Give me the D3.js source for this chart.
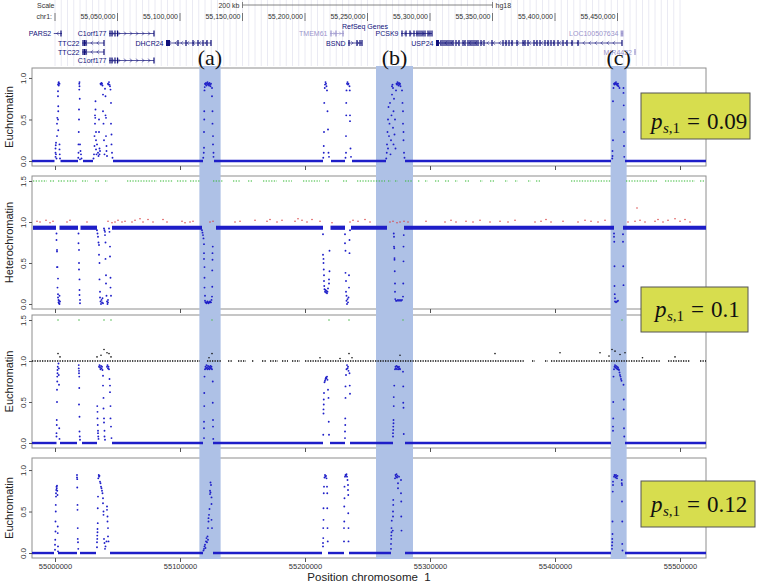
<!DOCTYPE html>
<html><head><meta charset="utf-8">
<script src="https://cdn.jsdelivr.net/npm/d3@7"></script>
<style>body{margin:0;background:#fff;} svg{display:block;}</style>
</head><body><svg id="c" width="758" height="584"></svg>
<script>
// ---------------- DATA (positions in kb on chromosome 1) ----------------
const xTickKb = [55000,55100,55200,55300,55400,55500];
const chrTickKb = [55000,55050,55100,55150,55200,55250,55300,55350,55400,55450];
const scaleBarKb = [55150,55350];
const scaleBarLabel = "200 kb";
const assembly = "hg18";
const trackTitle = "RefSeq Genes";

const geneNames  = ["PARS2","C1orf177","TMEM61","PCSK9","LOC100507634","TTC22","DHCR24","BSND","USP24","TTC22","MIR4422","C1orf177"];
const geneRow    = [0,0,0,0,0,1,1,1,1,2,2,3];
const geneStart  = [54999.0,55043.2,55220.0,55276.8,55452.8,55021.6,55088.8,55234.4,55304.8,55021.6,55463.6,55043.2];
const geneEnd    = [55005.6,55079.2,55231.2,55301.6,55454.4,55039.2,55124.8,55245.6,55453.6,55039.2,55464.4,55079.2];
const geneStrand = ["-","+","+","+","+","-","-","+","-","-","-","+"];
const genePredicted = [false,false,true,false,true,false,false,false,false,false,true,false];
const geneExons = [
  [55004.8],
  [55044,55045.6,55048,55050,55079.2],
  [55220.8,55224.8,55230.4],
  [55277.6,55280.8,55284,55287.2,55289.6,55291.2,55292.8,55294.4,55296,55298.4,55300,55301.6],
  [55453.0,55454.2],
  [55022.4,55023.6,55024.8,55039.2],
  [55098.4,55104.8,55110.4,55114.4,55118.4,55121.6,55124.8],
  [55235.2,55241.6,55244,55245.6],
  [55308.8,55310.4,55312,55313.6,55315.2,55316.8,55318.4,55320.8,55323.2,55326.4,55328,55330.4,55332,55333.6,55335.2,55336.8,55338.4,55340.8,55343.2,55349.6,55358.4,55360.8,55363.2,55365.6,55369.6,55374.4,55376,55378.4,55383.2,55385.6,55388,55392,55394.4,55396.8,55399.2,55402.4,55406.4,55409.6,55413.6,55418.4,55453.6],
  [55022.4,55023.6,55024.8,55039.2],
  [55464.0],
  [55044,55045.6,55048,55050,55079.2]
];
const geneBlocks = [[],[],[],[],[],[],[55088.8,55092],[],[55304.8,55307.2],[],[],[]];

const regionLabels = ["(a)","(b)","(c)"];
const regionStart = [55115.5,55256.8,55444.5];
const regionEnd   = [55132.5,55286.4,55457.3];

const panelTitles = ["Euchromatin","Heterochromatin","Euchromatin","Euchromatin"];
const yTicks = [[0,0.5,1],[0,0.5,1,1.5],[0,0.5,1,1.5],[0,0.5,1]];
const ps1Values = ["0.09","0.1","0.12"];
const xTitle = "Position chromosome  1";

// Panel 1: euchromatin posterior, p_s,1 = 0.09
const eu09Base = [[54981.6,54999.6],[55004.4,55018.4],[55022.4,55030.4],[55046.4,55118.4],[55127.2,55214.4],[55220.8,55232],[55237.6,55264.8],[55280,55444.8],[55456,55520.8]];
const eu09Pts = [
 [55000.4,0.05],[55000.4,0.1],[55000.4,0.15],[55000.6,0.19],[55000.8,0.22],[55000.8,0.08],[55001.2,0.03],[55001.6,0.3],[55001.6,0.45],[55001.8,0.52],[55002.4,0.92],[55002.4,0.84],[55002.4,0.78],[55002.6,0.66],[55002.6,0.6],[55002.4,0.5],[55002.6,0.37],[55002.8,0.94],[55003.0,0.91],[55003.0,0.95],[55003.6,0.93],[55003.6,0.2],[55003.6,0.14],[55003.8,0.08],[55004.0,0.03],
 [55018.6,0.04],[55018.8,0.1],[55018.8,0.2],[55019.0,0.35],[55019.2,0.5],[55019.2,0.62],[55019.4,0.86],[55019.4,0.93],[55019.6,0.95],[55019.6,0.9],[55019.8,0.75],[55020.0,0.2],[55020.4,0.12],[55020.8,0.08],[55021.2,0.03],[55020.0,0.02],
 [55030.8,0.03],[55031.2,0.08],[55031.6,0.18],[55031.6,0.3],[55032.0,0.45],[55032.0,0.55],[55032.2,0.52],[55032.4,0.62],[55032.4,0.72],[55032.8,0.35],[55032.8,0.25],[55032.8,0.14],[55033.2,0.08],[55033.6,0.2],[55034.4,0.1],[55034.8,0.06],[55035.2,0.5],[55035.2,0.35],[55035.6,0.15],[55035.6,0.08],[55036.0,0.12],[55036.4,0.93],[55036.8,0.92],[55037.2,0.94],[55037.6,0.93],[55038.0,0.91],[55038.4,0.8],[55038.4,0.6],[55038.8,0.45],[55039.2,0.25],[55039.6,0.08],[55040.0,0.87],[55040.4,0.78],[55040.4,0.55],[55040.8,0.52],[55040.8,0.3],[55041.2,0.18],[55041.2,0.12],[55041.6,0.06],[55042.4,0.93],[55042.8,0.92],[55043.2,0.95],[55043.6,0.92],[55044.0,0.9],[55044.4,0.86],[55044.8,0.7],[55044.8,0.45],[55045.2,0.32],[55045.2,0.2],[55045.6,0.1],[55046.0,0.04],
 [55118.6,0.04],[55119.0,0.1],[55119.2,0.16],[55119.2,0.35],[55119.4,0.5],[55119.4,0.6],[55119.6,0.85],[55119.8,0.89],[55120.0,0.93],[55120.4,0.92],[55120.8,0.94],[55121.2,0.91],[55121.6,0.93],[55122.0,0.95],[55122.4,0.92],[55122.8,0.93],[55123.2,0.91],[55123.6,0.94],[55124.0,0.92],[55124.4,0.9],[55124.8,0.93],[55125.6,0.88],[55125.6,0.78],[55126.0,0.6],[55126.0,0.45],[55126.4,0.3],[55126.4,0.2],[55126.8,0.1],[55126.8,0.05],
 [55214.6,0.04],[55215.0,0.1],[55215.0,0.18],[55215.2,0.35],[55215.4,0.7],[55215.8,0.88],[55216.0,0.92],[55216.4,0.95],[55216.8,0.93],[55217.2,0.9],[55217.6,0.85],[55218.0,0.6],[55218.4,0.38],[55218.8,0.1],[55219.2,0.05],
 [55232.4,0.04],[55232.8,0.1],[55232.8,0.3],[55233.0,0.55],[55233.0,0.7],[55233.2,0.85],[55233.6,0.93],[55234.0,0.95],[55234.4,0.92],[55234.8,0.93],[55235.6,0.9],[55235.8,0.85],[55236.0,0.55],[55236.0,0.48],[55236.4,0.15],[55236.8,0.05],
 [55265.0,0.03],[55265.4,0.1],[55265.6,0.2],[55266.0,0.35],[55266.4,0.15],[55266.4,0.5],[55266.8,0.65],[55267.2,0.3],[55267.6,0.45],[55268.0,0.7],[55268.4,0.08],[55268.8,0.25],[55269.2,0.55],[55269.6,0.8],[55269.6,0.9],[55270.0,0.92],[55270.4,0.88],[55270.4,0.4],[55270.8,0.6],[55270.8,0.2],[55271.2,0.75],[55271.6,0.32],[55272.0,0.5],[55272.4,0.15],[55272.8,0.85],[55273.2,0.93],[55273.6,0.92],[55274.0,0.95],[55274.4,0.93],[55274.8,0.91],[55275.2,0.94],[55275.6,0.92],[55276.0,0.93],[55276.4,0.9],[55277.6,0.85],[55278.0,0.7],[55278.4,0.6],[55278.4,0.45],[55278.8,0.35],[55278.8,0.25],[55279.2,0.1],[55279.6,0.04],
 [55445.8,0.03],[55446.0,0.06],[55446.0,0.12],[55446.4,0.25],[55446.4,0.72],[55446.8,0.88],[55447.2,0.93],[55447.6,0.92],[55448.0,0.94],[55448.4,0.93],[55448.8,0.95],[55449.2,0.92],[55449.6,0.93],[55450.0,0.91],[55450.4,0.93],[55450.8,0.9],[55451.6,0.88],[55454.8,0.88],[55454.8,0.82],[55455.0,0.67],[55455.0,0.5],[55455.2,0.35],[55455.2,0.18],[55455.4,0.05]
];

// Panel 2: heterochromatin posterior
const hetBand = [[54982.4,55000.8],[55003.6,55018.4],[55020.4,55033.6],[55045.6,55117.6],[55128.8,55214.4],[55220.4,55232.0],[55236.8,55265.6],[55279.2,55447.2],[55454.4,55520.8]];
const hetPts = [
 [55001.2,0.86],[55001.2,0.78],[55001.6,0.66],[55001.6,0.64],[55001.6,0.45],[55002.0,0.45],[55002.4,0.31],[55002.0,0.2],[55002.4,0.12],[55002.4,0.08],[55002.8,0.05],[55002.8,0.02],[55003.2,0.01],[55003.2,0.04],[55003.6,0.1],[55003.6,0.0],[55004.0,0.03],
 [55018.8,0.86],[55018.8,0.74],[55019.2,0.66],[55019.2,0.5],[55019.2,0.42],[55019.6,0.3],[55019.6,0.17],[55019.6,0.11],[55020.0,0.05],[55020.0,0.01],
 [55033.6,0.9],[55034.0,0.86],[55034.4,0.82],[55034.8,0.75],[55035.2,0.72],[55035.2,0.6],[55035.6,0.5],[55035.6,0.3],[55036.0,0.15],[55036.0,0.08],[55036.4,0.03],[55036.8,0.0],[55037.2,0.05],[55037.6,0.02],[55038.0,0.07],[55038.4,0.01],[55039.2,0.92],[55039.6,0.9],[55040.0,0.88],[55040.0,0.84],[55040.4,0.75],[55040.4,0.55],[55040.8,0.35],[55040.8,0.25],[55041.2,0.1],[55041.6,0.03],[55042.0,0.0],[55042.4,0.05],[55042.4,0.02],[55043.2,0.92],[55043.6,0.88],[55044.0,0.7],[55044.0,0.58],[55044.4,0.32],[55044.4,0.2],[55044.8,0.1],
 [55117.6,0.9],[55118.0,0.87],[55118.4,0.84],[55118.8,0.8],[55119.2,0.73],[55119.2,0.62],[55119.2,0.55],[55119.6,0.45],[55119.6,0.32],[55119.6,0.2],[55120.0,0.1],[55120.0,0.04],[55120.4,0.02],[55120.8,0.02],[55121.2,0.01],[55121.6,0.02],[55122.0,0.03],[55122.4,0.02],[55122.8,0.01],[55123.2,0.02],[55123.6,0.02],[55124.0,0.03],[55124.4,0.02],[55124.8,0.02],[55125.2,0.05],[55125.6,0.09],[55125.8,0.21],[55125.8,0.41],[55126.0,0.54],[55126.0,0.62],[55126.2,0.7],
 [55214.4,0.85],[55214.4,0.6],[55214.8,0.55],[55214.8,0.5],[55215.0,0.42],[55215.2,0.35],[55215.2,0.28],[55215.4,0.22],[55215.6,0.18],[55216.0,0.15],[55216.4,0.17],[55216.8,0.14],[55217.2,0.16],[55217.6,0.13],[55218.0,0.15],[55218.4,0.19],[55219.2,0.25],[55219.2,0.3],[55219.6,0.4],[55219.6,0.65],
 [55232.0,0.85],[55232.0,0.74],[55232.4,0.65],[55232.4,0.38],[55232.8,0.28],[55232.8,0.15],[55233.2,0.1],[55233.2,0.04],[55233.6,0.0],[55234.0,0.06],[55234.4,0.02],[55234.8,0.08],[55235.2,0.2],[55235.2,0.35],[55235.6,0.62],[55235.6,0.78],[55236.0,0.9],
 [55271.0,0.86],[55271.2,0.82],[55271.2,0.7],[55271.4,0.68],[55271.6,0.56],[55271.6,0.54],[55271.8,0.4],[55272.0,0.25],[55272.0,0.15],[55272.2,0.06],[55272.8,0.04],[55273.6,0.04],[55274.4,0.05],[55275.2,0.04],[55276.0,0.05],[55276.8,0.04],[55277.6,0.05],[55278.4,0.09],[55278.6,0.25],[55278.8,0.52],[55278.8,0.7],[55279.0,0.84],
 [55447.2,0.86],[55447.2,0.82],[55447.4,0.76],[55447.6,0.46],[55447.6,0.22],[55447.8,0.12],[55448.0,0.07],[55448.0,0.03],[55448.8,0.02],[55449.6,0.03],[55450.4,0.04],[55454.4,0.85],[55454.4,0.76],[55454.6,0.46],[55454.8,0.23]
];
const hetRed = [
 [54985.6,1.01],[54988.0,1.0],[54992.8,1.02],[54996.0,0.99],[54998.4,1.01],[55009.6,1.0],[55012.0,1.02],[55025.6,1.0],[55042.4,1.01],[55045.6,0.99],[55048.0,1.0],[55050.4,1.02],[55053.6,1.0],[55056.0,1.01],[55061.6,1.0],[55064.0,1.02],[55068.0,1.04],[55070.4,1.0],[55074.4,1.03],[55078.4,1.0],[55086.4,1.03],[55089.6,1.0],[55101.6,1.01],[55104.0,0.99],[55108.0,1.0],[55110.4,1.01],[55124.0,1.0],[55126.4,1.01],[55144.0,1.0],[55148.0,1.01],[55160.0,1.02],[55169.6,1.01],[55172.0,1.03],[55177.6,1.0],[55181.6,1.02],[55192.0,1.01],[55194.4,1.04],[55197.6,1.02],[55201.6,1.0],[55205.6,1.03],[55212.0,1.01],[55221.6,0.99],[55236.0,1.0],[55238.4,1.02],[55242.4,1.01],[55248.0,1.03],[55252.0,1.0],
 [55268.0,1.0],[55270.4,1.01],[55273.6,0.99],[55276.0,1.0],[55279.2,1.01],[55282.4,1.0],[55296.8,1.01],[55312.0,1.0],[55316.8,1.02],[55320.8,1.0],[55328.8,1.01],[55334.4,1.0],[55340.0,1.02],[55348.0,1.0],[55356.0,1.01],[55362.4,1.0],[55368.0,1.02],[55384.0,1.0],[55388.8,1.01],[55392.8,1.03],[55396.8,1.0],[55406.4,1.01],[55418.4,1.0],[55424.0,1.02],[55428.8,1.01],[55434.4,1.0],[55440.0,1.02],[55458.4,1.0],[55464.0,1.01],[55465.6,1.17],[55468.0,1.02],[55472.0,1.0],[55480.0,1.01],[55482.4,1.03],[55486.4,1.0],[55490.4,1.02],[55496.0,1.04],[55500.0,1.01],[55504.0,1.03],[55508.0,1.0]
];
const hetGreenRuns = [[54982.4,54993.6],[54996,55000],[55002.4,55008],[55009.6,55017.6],[55021.6,55026.4],[55032,55036],[55040,55042.4],[55057.6,55081.6],[55084,55094.4],[55097.6,55105.6],[55108,55116],[55126.4,55134.4],[55142.4,55148],[55154.4,55158.4],[55166.4,55177.6],[55182.4,55189.6],[55198.4,55212],[55216,55220],[55230.4,55233.6],[55241.6,55264],[55266.4,55268.8],[55272,55274.4],[55280,55285.6],[55290.4,55292],[55296,55298.4],[55304,55308],[55312,55316],[55320,55322.4],[55328,55332],[55340,55342.4],[55348,55352],[55360,55362.4],[55368,55370.4],[55378.4,55380.8],[55384.8,55388],[55412.8,55444.8],[55456.8,55482.4],[55488,55512],[55516,55520]];

// Panel 3: euchromatin posterior, p_s,1 = 0.1
const eu10Base = [[54981.6,55001.2],[55004,55017.6],[55021.6,55033.6],[55045.6,55118.4],[55126.4,55214.4],[55220,55232],[55236,55270.4],[55280,55444.8],[55456,55520.8]];
const eu10Pts = [
 [55001.2,0.08],[55001.2,0.12],[55001.4,0.22],[55001.4,0.28],[55001.6,0.5],[55001.6,0.65],[55001.8,0.75],[55001.8,0.81],[55002.0,0.85],[55002.0,0.89],[55002.2,0.93],[55002.8,0.97],[55003.0,0.91],[55003.0,0.83],[55003.2,0.71],[55003.4,0.18],[55003.6,0.05],
 [55019.0,0.95],[55019.0,0.91],[55019.2,0.88],[55019.2,0.85],[55019.4,0.81],[55019.4,0.67],[55019.2,0.47],[55019.6,0.32],[55019.6,0.14],[55019.8,0.08],[55020.0,0.04],
 [55033.8,0.45],[55034.0,0.38],[55034.0,0.3],[55034.2,0.22],[55034.4,0.15],[55034.4,0.12],[55034.6,0.08],[55034.8,0.05],[55035.2,0.93],[55035.6,0.95],[55036.0,0.92],[55036.4,0.9],[55036.8,0.94],[55037.2,0.91],[55037.6,0.93],[55038.0,0.89],[55038.4,0.82],[55038.4,0.7],[55038.8,0.55],[55038.8,0.42],[55039.2,0.3],[55039.2,0.25],[55039.6,0.15],[55039.6,0.08],[55040.0,0.04],[55041.6,0.93],[55042.0,0.95],[55042.4,0.91],[55042.8,0.93],[55043.2,0.9],[55043.6,0.78],[55044.0,0.7],[55044.0,0.62],[55044.4,0.45],[55044.4,0.3],[55044.8,0.2],[55045.2,0.06],
 [55119.2,0.06],[55119.2,0.18],[55119.2,0.26],[55119.4,0.45],[55119.4,0.61],[55119.6,0.81],[55120.0,0.9],[55120.4,0.93],[55120.8,0.91],[55121.2,0.95],[55121.6,0.92],[55122.0,0.9],[55122.4,0.94],[55122.8,0.91],[55123.2,0.93],[55123.6,0.9],[55124.0,0.92],[55124.4,0.94],[55124.8,0.91],[55125.2,0.93],[55125.6,0.9],[55126.2,0.75],[55126.2,0.49],[55126.4,0.28],[55126.4,0.2],[55126.6,0.05],
 [55214.6,0.1],[55214.8,0.36],[55214.8,0.41],[55215.0,0.47],[55215.0,0.53],[55215.2,0.61],[55215.6,0.74],[55216.0,0.76],[55216.4,0.78],[55216.8,0.8],[55217.2,0.79],[55217.6,0.81],[55218.0,0.77],[55218.4,0.65],[55218.8,0.55],[55219.0,0.26],[55219.2,0.1],
 [55232.0,0.06],[55232.0,0.14],[55232.2,0.22],[55232.2,0.3],[55232.4,0.55],[55232.4,0.69],[55232.8,0.83],[55233.2,0.9],[55233.6,0.95],[55234.0,0.91],[55234.4,0.93],[55234.8,0.88],[55235.6,0.85],[55235.8,0.7],[55236.0,0.6],
 [55270.4,0.08],[55270.4,0.12],[55270.6,0.16],[55270.6,0.2],[55270.8,0.24],[55270.8,0.28],[55271.0,0.45],[55271.0,0.56],[55271.4,0.7],[55272.0,0.9],[55272.4,0.93],[55272.8,0.91],[55273.2,0.94],[55273.6,0.9],[55274.0,0.93],[55274.4,0.92],[55274.8,0.9],[55275.2,0.93],[55275.6,0.91],[55276.0,0.9],[55278.4,0.87],[55278.6,0.69],[55278.6,0.49],[55278.8,0.43],[55279.0,0.11],
 [55446.4,0.15],[55446.4,0.2],[55446.6,0.3],[55446.6,0.5],[55446.8,0.81],[55447.2,0.9],[55447.6,0.93],[55448.0,0.95],[55448.4,0.92],[55448.8,0.94],[55449.2,0.91],[55449.6,0.93],[55450.0,0.9],[55450.4,0.92],[55450.8,0.9],[55451.2,0.89],[55451.6,0.86],[55452.0,0.83],[55452.4,0.81],[55452.8,0.78],[55453.2,0.76],[55454.8,0.71],[55455.0,0.53],[55455.0,0.41],[55455.2,0.18],[55455.4,0.08]
];
const eu10Green = [[55002.4,1.5],[55019.2,1.5],[55039.2,1.5],[55044.8,1.5],[55125.6,1.5],[55219.2,1.5],[55235.2,1.5],[55278.4,1.5],[55453.6,1.5]];
const eu10BlackRuns = [[54981.6,55116],[55121.6,55133.6],[55138.4,55141.6],[55146.4,55152.8],[55157.6,55159.2],[55165.6,55168.8],[55172,55178.4],[55181.6,55186.4],[55189.6,55196],[55200,55376],[55381.6,55384],[55392,55394.4],[55396.8,55484],[55490.4,55508],[55516,55520.8]];
const eu10Black = [[55002.4,1.09],[55004.0,1.05],[55033.6,1.05],[55036.8,1.07],[55039.2,1.14],[55041.6,1.1],[55043.2,1.09],[55044.8,1.05],[55125.6,1.09],[55123.2,1.04],[55212.0,1.04],[55228.0,1.03],[55235.2,1.09],[55237.6,1.04],[55276.0,1.07],[55352.0,1.09],[55404.0,1.1],[55436.0,1.1],[55443.2,1.06],[55445.6,1.14],[55448.0,1.12],[55452.0,1.08],[55456.0,1.1],[55470.0,1.04],[55496.0,1.05]];

// Panel 4: euchromatin posterior, p_s,1 = 0.12
const eu12Base = [[54981.6,54999.2],[55002.4,55017.6],[55020,55032.8],[55044,55118.4],[55126.4,55213.6],[55218.4,55231.2],[55235.2,55268.8],[55280,55444.8],[55456,55520.8]];
const eu12Pts = [
 [55000.0,0.04],[55000.0,0.1],[55000.2,0.16],[55000.4,0.26],[55000.4,0.38],[55000.6,0.5],[55000.6,0.58],[55000.8,0.68],[55000.8,0.72],[55001.0,0.76],[55001.2,0.8],[55001.4,0.78],[55001.6,0.81],[55001.8,0.75],[55002.0,0.7],[55002.2,0.32],[55002.2,0.24],[55002.4,0.08],[55002.4,0.02],
 [55017.6,0.94],[55017.6,0.91],[55017.8,0.89],[55017.8,0.79],[55018.0,0.58],[55018.0,0.52],[55018.2,0.3],[55018.2,0.17],[55018.4,0.13],[55018.6,0.05],
 [55033.6,0.07],[55033.6,0.13],[55033.8,0.17],[55033.8,0.21],[55034.0,0.25],[55034.0,0.29],[55034.2,0.36],[55034.2,0.54],[55034.4,0.68],[55034.6,0.9],[55035.0,0.94],[55035.2,0.92],[55035.6,0.93],[55036.0,0.86],[55036.4,0.84],[55036.8,0.8],[55037.2,0.78],[55037.6,0.75],[55038.0,0.72],[55038.4,0.66],[55038.4,0.6],[55038.8,0.5],[55038.8,0.46],[55039.2,0.17],[55039.6,0.12],[55040.0,0.05],[55040.4,0.08],[55041.2,0.14],[55041.6,0.56],[55041.6,0.52],[55042.0,0.44],[55042.0,0.38],[55042.4,0.3],[55042.4,0.2],[55042.8,0.14],
 [55118.8,0.03],[55119.2,0.05],[55119.6,0.08],[55120.0,0.1],[55120.4,0.06],[55120.8,0.14],[55121.2,0.18],[55121.6,0.13],[55122.0,0.2],[55122.4,0.16],[55122.4,0.3],[55122.8,0.42],[55122.8,0.38],[55123.2,0.46],[55123.6,0.53],[55124.0,0.71],[55124.0,0.75],[55124.4,0.73],[55124.4,0.85],[55124.8,0.82],[55125.2,0.67],[55125.2,0.59],[55125.2,0.4],[55125.6,0.3],
 [55214.4,0.08],[55214.4,0.12],[55214.6,0.18],[55214.6,0.3],[55214.8,0.4],[55214.8,0.54],[55215.0,0.72],[55215.2,0.8],[55215.6,0.91],[55216.0,0.94],[55216.4,0.92],[55216.8,0.93],[55217.2,0.9],[55217.6,0.8],[55217.8,0.72],[55217.8,0.54],[55218.0,0.3],[55218.2,0.14],
 [55231.2,0.14],[55231.2,0.3],[55231.4,0.38],[55231.4,0.56],[55231.6,0.66],[55231.6,0.8],[55232.0,0.92],[55232.4,0.94],[55232.8,0.93],[55233.2,0.95],[55233.6,0.92],[55234.0,0.88],[55234.4,0.82],[55234.4,0.76],[55234.6,0.7],[55234.6,0.48],[55234.8,0.3],[55234.8,0.14],
 [55268.8,0.05],[55268.8,0.11],[55269.0,0.17],[55269.0,0.21],[55269.2,0.25],[55269.2,0.3],[55269.4,0.39],[55270.2,0.27],[55270.4,0.44],[55270.4,0.5],[55270.6,0.58],[55270.6,0.64],[55272.0,0.9],[55272.4,0.94],[55272.8,0.92],[55273.2,0.95],[55273.6,0.91],[55274.0,0.93],[55274.4,0.84],[55274.4,0.78],[55275.2,0.92],[55276.8,0.88],[55276.8,0.72],[55277.0,0.62],[55277.0,0.44],[55277.2,0.27],
 [55445.6,0.05],[55445.6,0.09],[55445.8,0.13],[55445.8,0.17],[55446.0,0.23],[55446.0,0.38],[55446.2,0.74],[55446.4,0.82],[55446.4,0.86],[55447.2,0.92],[55447.6,0.94],[55448.0,0.93],[55448.4,0.91],[55448.8,0.94],[55449.2,0.92],[55449.6,0.9],[55450.0,0.93],[55453.4,0.88],[55453.4,0.84],[55453.6,0.82],[55453.6,0.62],[55453.8,0.38],[55453.8,0.11],[55454.0,0.03]
];

// ---------------- DRAWING ----------------
const svg = d3.select("#c");
const BLUE = "#1e1ec8", SHADE = "#aec1e6", FONT = "Liberation Sans, Arial, sans-serif";
const x = d3.scaleLinear().domain([54981.6, 55520.8]).range([32, 706]);

// ---- gene track (UCSC style) ----
const track = svg.append("g").attr("font-family", FONT).attr("font-size", 7);
track.selectAll("line.guide").data(d3.range(55000, 55500.01, 5)).join("line")
  .attr("x1", d => x(d)).attr("x2", d => x(d)).attr("y1", 0).attr("y2", 66)
  .attr("stroke", "#e4e4f0").attr("stroke-width", 0.8);
track.append("text").attr("x", 37).attr("y", 8).attr("fill", "#333").text("Scale");
track.append("text").attr("x", x(scaleBarKb[0]) - 3).attr("y", 8).attr("text-anchor", "end").attr("fill", "#333").text(scaleBarLabel);
track.append("line").attr("x1", x(scaleBarKb[0])).attr("x2", x(scaleBarKb[1])).attr("y1", 5).attr("y2", 5).attr("stroke", "#666").attr("stroke-width", 0.8);
scaleBarKb.forEach(k => track.append("line").attr("x1", x(k)).attr("x2", x(k)).attr("y1", 2).attr("y2", 8).attr("stroke", "#666").attr("stroke-width", 0.8));
track.append("text").attr("x", x(scaleBarKb[1]) + 3).attr("y", 8).attr("fill", "#333").text(assembly);
track.append("text").attr("x", 52).attr("y", 19).attr("text-anchor", "end").attr("fill", "#333").text("chr1:");
track.selectAll("line.ct").data(chrTickKb).join("line")
  .attr("x1", d => x(d)).attr("x2", d => x(d)).attr("y1", 13).attr("y2", 21).attr("stroke", "#555").attr("stroke-width", 0.8);
track.selectAll("text.ct").data(chrTickKb.slice(1)).join("text")
  .attr("x", d => x(d) - 2).attr("y", 19).attr("text-anchor", "end").attr("fill", "#333")
  .text(d => d3.format(",")(Math.round(d * 1000)));
track.append("text").attr("x", 365).attr("y", 29).attr("text-anchor", "middle").attr("fill", "#10107a").text(trackTitle);

const rowY = [33.5, 43, 52, 60.5];
geneNames.forEach((name, i) => {
  const col = genePredicted[i] ? "#9a94cc" : "#10107a";
  const y0 = rowY[geneRow[i]];
  const g = track.append("g");
  g.append("text").attr("x", x(geneStart[i]) - 2.5).attr("y", y0 + 2.5).attr("text-anchor", "end").attr("fill", col).text(name);
  g.append("line").attr("x1", x(geneStart[i])).attr("x2", x(geneEnd[i])).attr("y1", y0).attr("y2", y0).attr("stroke", col).attr("stroke-width", 0.7);
  const x0 = x(geneStart[i]), x1 = x(geneEnd[i]);
  const dir = geneStrand[i] === "+" ? 1 : -1;
  d3.range(x0 + 4, x1 - 2, 6).forEach(px => {
    g.append("path").attr("d", `M${px - dir * 1.2},${y0 - 1.8}L${px + dir * 1.2},${y0}L${px - dir * 1.2},${y0 + 1.8}`)
      .attr("fill", "none").attr("stroke", col).attr("stroke-width", 0.5);
  });
  geneExons[i].forEach(k => g.append("rect").attr("x", x(k) - 0.6).attr("y", y0 - 3).attr("width", 1.2).attr("height", 6).attr("fill", col));
  if (geneBlocks[i].length) g.append("rect").attr("x", x(geneBlocks[i][0])).attr("y", y0 - 3)
    .attr("width", x(geneBlocks[i][1]) - x(geneBlocks[i][0])).attr("height", 6).attr("fill", col);
});

// ---- panels ----
const panelGeo = [
  { top: 68, bottom: 166, dom: [-0.06, 1.12] },
  { top: 176, bottom: 309, dom: [-0.061, 1.561] },
  { top: 315, bottom: 448, dom: [-0.061, 1.561] },
  { top: 458, bottom: 558, dom: [-0.06, 1.145] }
];
const ys = panelGeo.map(p => d3.scaleLinear().domain(p.dom).range([p.bottom, p.top]));

// boxes, axes, titles
panelGeo.forEach((p, i) => {
  const y = ys[i];
  const g = svg.append("g");
  g.append("rect").attr("x", 32).attr("y", p.top).attr("width", 674).attr("height", p.bottom - p.top)
    .attr("fill", "none").attr("stroke", "#8e8e8e").attr("stroke-width", 1);
  const ya = g.append("g").attr("transform", "translate(32,0)")
    .call(d3.axisLeft(y).tickValues(yTicks[i]).tickFormat(d3.format(".1f")).tickSize(3));
  ya.select(".domain").remove();
  ya.selectAll("line").attr("stroke", "#555");
  ya.selectAll("text").attr("transform", "rotate(-90)").attr("x", 0).attr("y", -6).attr("dy", 0)
    .attr("text-anchor", "middle").attr("font-family", FONT).attr("font-size", 8).attr("fill", "#333");
  const xa = g.append("g").attr("transform", `translate(0,${p.bottom})`)
    .call(d3.axisBottom(x).tickValues(xTickKb).tickSize(4).tickFormat(i === 3 ? (d => d3.format("d")(Math.round(d * 1000))) : ""));
  xa.select(".domain").remove();
  xa.selectAll("line").attr("stroke", "#555");
  xa.selectAll("text").attr("font-family", FONT).attr("font-size", 7.5).attr("fill", "#333").attr("y", 5).attr("dy", "0.75em");
  g.append("text").attr("transform", `translate(13,${(p.top + p.bottom) / 2}) rotate(-90)`)
    .attr("text-anchor", "middle").attr("font-family", FONT).attr("font-size", 11).attr("fill", "#222").text(panelTitles[i]);
});
svg.append("text").attr("x", 369).attr("y", 580.5).attr("text-anchor", "middle").attr("font-family", FONT)
  .attr("font-size", 11.5).attr("fill", "#222").attr("xml:space", "preserve").text(xTitle);

// shaded regions
regionLabels.forEach((lab, i) => {
  svg.append("rect").attr("x", x(regionStart[i])).attr("y", 66).attr("width", x(regionEnd[i]) - x(regionStart[i]))
    .attr("height", 493).attr("fill", SHADE);
  svg.append("text").attr("x", x((regionStart[i] + regionEnd[i]) / 2)).attr("y", 65).attr("text-anchor", "middle")
    .attr("font-family", "Liberation Serif, Times New Roman, serif").attr("font-size", 22).attr("fill", "#111").text(lab);
});

function runs(g, y, data, v, color, width, dash) {
  g.selectAll(null).data(data).join("line")
    .attr("x1", d => x(d[0])).attr("x2", d => x(d[1])).attr("y1", y(v)).attr("y2", y(v))
    .attr("stroke", color).attr("stroke-width", width).attr("stroke-dasharray", dash || null);
}
function pts(g, y, data, color, r) {
  g.selectAll(null).data(data).join("circle")
    .attr("cx", d => x(d[0])).attr("cy", d => y(d[1])).attr("r", r).attr("fill", color);
}

// panel 1
let g1 = svg.append("g");
runs(g1, ys[0], eu09Base, 0, BLUE, 2.4);
pts(g1, ys[0], eu09Pts, BLUE, 0.95);
// panel 2
let g2 = svg.append("g");
runs(g2, ys[1], hetGreenRuns, 1.5, "#33b833", 1.2, "1.3,1.4");
pts(g2, ys[1], hetRed, "#d84040", 0.75);
runs(g2, ys[1], hetBand, 0.93, BLUE, 4.2);
pts(g2, ys[1], hetPts, BLUE, 0.95);
// panel 3
let g3 = svg.append("g");
runs(g3, ys[2], eu10BlackRuns, 1.0, "#111", 1.5, "1.3,1.2");
pts(g3, ys[2], eu10Black, "#111", 0.8);
pts(g3, ys[2], eu10Green, "#55bb55", 0.8);
runs(g3, ys[2], eu10Base, 0, BLUE, 2.4);
pts(g3, ys[2], eu10Pts, BLUE, 0.95);
// panel 4
let g4 = svg.append("g");
runs(g4, ys[3], eu12Base, 0, BLUE, 2.4);
pts(g4, ys[3], eu12Pts, BLUE, 0.95);

// p_s,1 annotation boxes
const boxGeo = [
  { x: 641, y: 93, w: 109, h: 46, tx: 651, ty: 129 },
  { x: 641, y: 287, w: 107, h: 45, tx: 655, ty: 317 },
  { x: 641, y: 481, w: 114, h: 46, tx: 651, ty: 512 }
];
ps1Values.forEach((v, i) => {
  const b = boxGeo[i];
  svg.append("rect").attr("x", b.x).attr("y", b.y).attr("width", b.w).attr("height", b.h)
    .attr("fill", "#d7dd4e").attr("stroke", "#555").attr("stroke-width", 1);
  const t = svg.append("text").attr("x", b.tx).attr("y", b.ty).attr("font-family", "Liberation Serif, Times New Roman, serif")
    .attr("font-size", 23).attr("fill", "#111");
  t.append("tspan").attr("font-style", "italic").text("p");
  t.append("tspan").attr("font-style", "italic").attr("font-size", 15).attr("dy", 4).attr("dx", 0.5).text("s");
  t.append("tspan").attr("font-size", 15).text(",1");
  t.append("tspan").attr("dy", -4).attr("dx", 7).text("=");
  t.append("tspan").attr("dx", 7).text(v);
});
</script>
</body></html>
